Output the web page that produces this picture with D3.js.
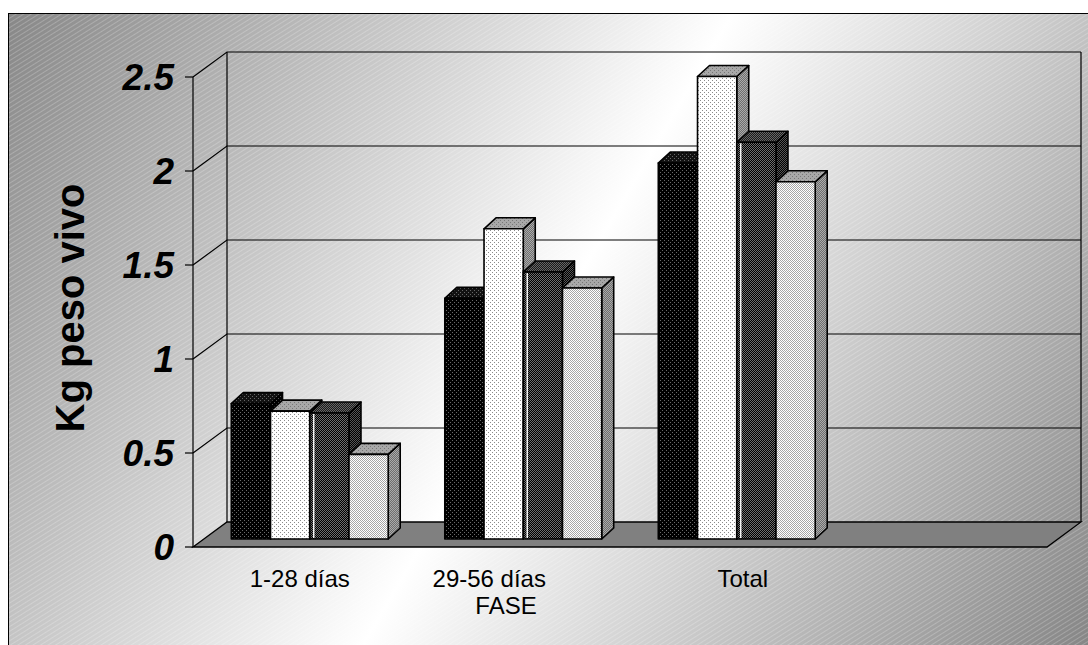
<!DOCTYPE html>
<html>
<head>
<meta charset="utf-8">
<script src="https://cdn.jsdelivr.net/npm/d3@7/dist/d3.min.js"></script>
<style>
  html, body { margin: 0; padding: 0; background: #fff; }
  svg { display: block; }
  text { font-family: Arial, "Liberation Sans", sans-serif; fill: #000; }
</style>
</head>
<body>
<svg id="chart" width="1088" height="645"></svg>
<script>
// Weight gain per phase (kg live weight), four treatments
const categories = ["1-28 días", "29-56 días", "Total", ""];
const serie1 = [0.72, 1.28, 2.00];
const serie2 = [0.68, 1.65, 2.46];
const serie3 = [0.67, 1.42, 2.11];
const serie4 = [0.45, 1.335, 1.90];
const yTicks = [0, 0.5, 1, 1.5, 2, 2.5];
const yTickLabels = ["0", "0.5", "1", "1.5", "2", "2.5"];
const axisTitle = "Kg peso vivo";
const categoryTitle = "FASE";

const series = [serie1, serie2, serie3, serie4];

const svg = d3.select("#chart");
const defs = svg.append("defs");

// ---- background: diagonal grey-white-grey gradient with fine hatching
const grad = defs.append("linearGradient").attr("id", "bg")
  .attr("gradientUnits", "userSpaceOnUse")
  .attr("x1", 8).attr("y1", 13).attr("x2", 1088).attr("y2", 645);
[[0, "#878787"], [0.5, "#ffffff"], [1, "#868686"]].forEach(([o, c]) =>
  grad.append("stop").attr("offset", o).attr("stop-color", c));

const hatch = defs.append("pattern").attr("id", "hatch")
  .attr("patternUnits", "userSpaceOnUse").attr("width", 4).attr("height", 4)
  .attr("patternTransform", "rotate(-32)");
hatch.append("rect").attr("x", 0).attr("y", 0).attr("width", 4).attr("height", 1)
  .attr("fill", "#fff").attr("opacity", 0.22);

// ---- pixel fill patterns for bar faces
function dotPattern(id, bg, dot, size, offsets) {
  const p = defs.append("pattern").attr("id", id)
    .attr("patternUnits", "userSpaceOnUse").attr("width", size).attr("height", size);
  p.append("rect").attr("width", size).attr("height", size).attr("fill", bg);
  offsets.forEach(([x, y]) => p.append("rect").attr("x", x).attr("y", y)
    .attr("width", 1).attr("height", 1).attr("fill", dot));
  return `url(#${id})`;
}
const sparse = [[0, 0], [2, 2]];
const checker = [[0, 0], [1, 1]];
const fills = [
  { front: dotPattern("f1", "#000", "#6a6a6a", 4, sparse),
    side:  dotPattern("s1", "#000", "#555", 4, sparse),
    top:   dotPattern("t1", "#111", "#666", 4, sparse) },
  { front: dotPattern("f2", "#fff", "#8a8a8a", 4, sparse),
    side:  dotPattern("s2", "#6e6e6e", "#aaa", 2, checker),
    top:   dotPattern("t2", "#a8a8a8", "#777", 4, sparse) },
  { front: dotPattern("f3", "#000", "#6e6e6e", 2, checker),
    side:  dotPattern("s3", "#000", "#555", 2, checker),
    top:   dotPattern("t3", "#1a1a1a", "#666", 2, checker) },
  { front: dotPattern("f4", "#fff", "#a6a6a6", 2, checker),
    side:  dotPattern("s4", "#6e6e6e", "#aaa", 2, checker),
    top:   dotPattern("t4", "#a8a8a8", "#777", 4, sparse) }
];

// background frame
svg.append("rect").attr("x", 8).attr("y", 13).attr("width", 1100).attr("height", 660)
  .attr("fill", "url(#bg)");
svg.append("rect").attr("x", 8).attr("y", 13).attr("width", 1100).attr("height", 660)
  .attr("fill", "url(#hatch)");
svg.append("rect").attr("x", 8.5).attr("y", 13.5).attr("width", 1100).attr("height", 660)
  .attr("fill", "none").attr("stroke", "#000").attr("stroke-width", 1);

// ---- 3D geometry
const wall = { dx: 34, dy: -25 };     // floor / wall depth
const plane = { dx: 10, dy: -8 };     // bar front plane offset
const depth = { dx: 12, dy: -11 };    // bar depth

const y = d3.scaleLinear().domain([0, 2.5]).range([547, 77]);
const x = d3.scaleBand().domain(categories).range([193, 1047])
  .paddingInner(0.265).paddingOuter(0.1325);
const xs = d3.scaleBand().domain(d3.range(series.length)).range([0, x.bandwidth()]);

const xL = x.range()[0], xR = x.range()[1];
const y0 = y(0), yTop = y(2.5);

const plot = svg.append("g");

// floor
plot.append("path")
  .attr("d", `M${xL},${y0} L${xL + wall.dx},${y0 + wall.dy} L${xR + wall.dx},${y0 + wall.dy} L${xR},${y0} Z`)
  .attr("fill", "#808080").attr("stroke", "#000").attr("stroke-width", 1.3);

// gridlines on side and back wall
yTicks.filter(v => v > 0).forEach(v => {
  plot.append("path")
    .attr("d", `M${xL},${y(v)} L${xL + wall.dx},${y(v) + wall.dy} L${xR + wall.dx},${y(v) + wall.dy}`)
    .attr("fill", "none").attr("stroke", "#000").attr("stroke-width", 1.2);
});
// wall edges
plot.append("path")
  .attr("d", `M${xL},${y0} L${xL},${yTop} M${xL + wall.dx},${y0 + wall.dy} L${xL + wall.dx},${yTop + wall.dy}
              M${xR + wall.dx},${y0 + wall.dy} L${xR + wall.dx},${yTop + wall.dy}`)
  .attr("fill", "none").attr("stroke", "#000").attr("stroke-width", 1.2);

// value axis ticks and labels
const axis = svg.append("g");
yTicks.forEach((v, i) => {
  axis.append("line").attr("x1", xL - 8).attr("x2", xL).attr("y1", y(v)).attr("y2", y(v))
    .attr("stroke", "#000").attr("stroke-width", 1.2);
  axis.append("text").attr("x", 174).attr("y", y(v)).attr("dy", "0.36em")
    .attr("text-anchor", "end").attr("font-size", 37).attr("font-weight", "bold")
    .attr("font-style", "italic").text(yTickLabels[i]);
});

svg.append("text")
  .attr("transform", `translate(84,${308}) rotate(-90)`)
  .attr("text-anchor", "middle").attr("font-size", 40).attr("font-weight", "bold")
  .text(axisTitle);

// ---- bars
const bars = plot.append("g");
categories.forEach((cat, ci) => {
  series.forEach((vals, si) => {
    const v = vals[ci];
    if (v == null) return;
    const x0 = x(cat) + xs(si) + plane.dx;
    const x1 = x0 + xs.bandwidth();
    const yb = y(0) + plane.dy;
    const yt = y(v) + plane.dy;
    const g = bars.append("g").attr("stroke", "#000").attr("stroke-width", 1.6)
      .attr("stroke-linejoin", "round");
    // side face
    g.append("path")
      .attr("d", `M${x1},${yb} L${x1 + depth.dx},${yb + depth.dy} L${x1 + depth.dx},${yt + depth.dy} L${x1},${yt} Z`)
      .attr("fill", fills[si].side);
    // top face
    g.append("path")
      .attr("d", `M${x0},${yt} L${x0 + depth.dx},${yt + depth.dy} L${x1 + depth.dx},${yt + depth.dy} L${x1},${yt} Z`)
      .attr("fill", fills[si].top);
    // front face
    g.append("rect").attr("x", x0).attr("y", yt).attr("width", x1 - x0).attr("height", yb - yt)
      .attr("fill", fills[si].front);
    if (si === 2) {
      g.append("line").attr("x1", x0 + 4).attr("x2", x0 + 4).attr("y1", yt + 1).attr("y2", yb - 1)
        .attr("stroke", "#fff").attr("stroke-width", 1.4);
    }
  });
});

// ---- category labels
const labelShift = [0, -24, 16, 0];
categories.forEach((cat, ci) => {
  if (!cat) return;
  svg.append("text")
    .attr("x", x(cat) + x.bandwidth() / 2 + labelShift[ci]).attr("y", 587)
    .attr("text-anchor", "middle").attr("font-size", 24).text(cat);
});
svg.append("text").attr("x", 506).attr("y", 614).attr("text-anchor", "middle")
  .attr("font-size", 24).text(categoryTitle);
</script>
</body>
</html>
